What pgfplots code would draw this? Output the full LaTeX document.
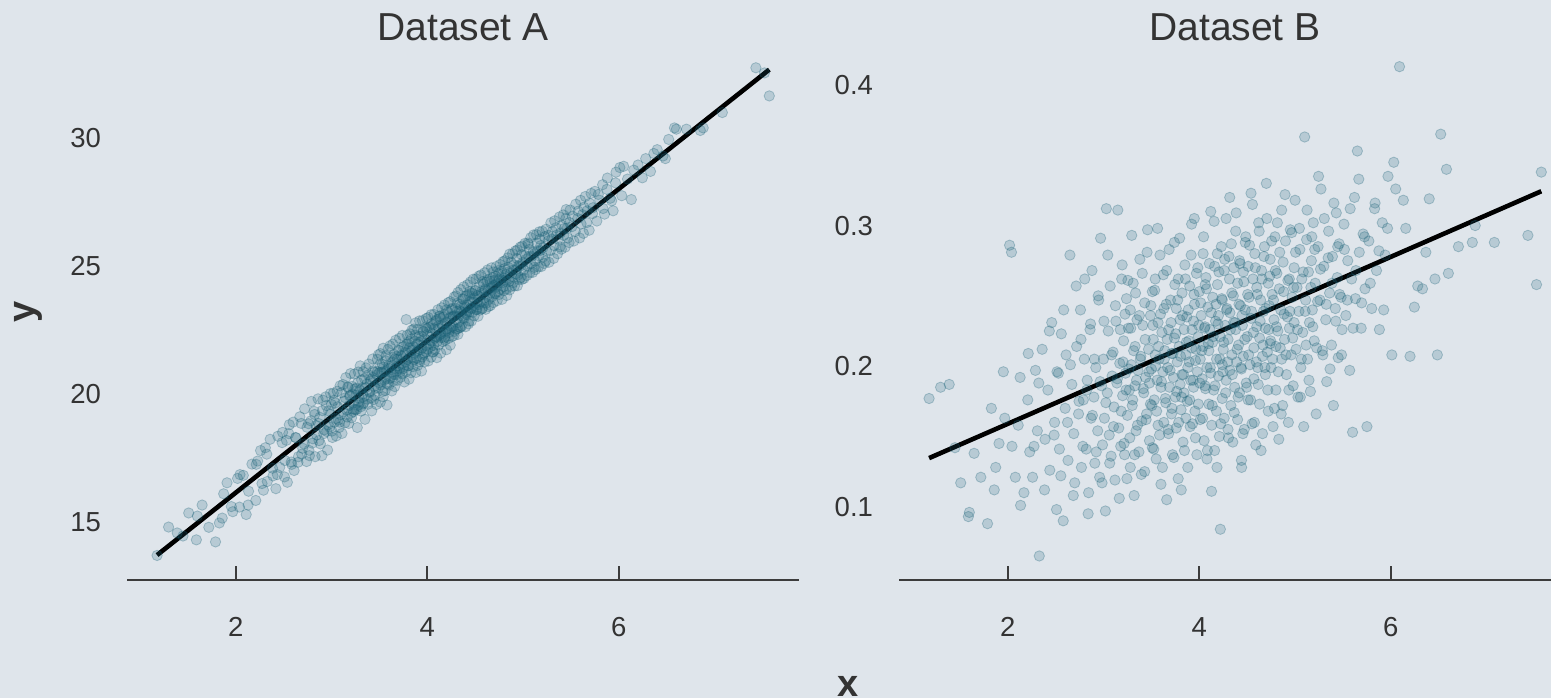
\documentclass[border=0pt]{standalone}
\usepackage{pgfplots}
\usepackage{pgfplotstable}
\pgfplotsset{compat=1.18}
\usepackage{fontspec}
\setmainfont{Liberation Sans}

\definecolor{bg}{HTML}{DFE5EB}
\definecolor{pt}{HTML}{1A6278}
\definecolor{txt}{HTML}{333333}
\definecolor{axl}{HTML}{3C3C3C}

% shared x values, y of dataset A, y of dataset B
\pgfplotstableread{
x ya yb
1.18 13.69 0.177
1.30 14.80 0.185
1.39 14.57 0.187
1.45 14.45 0.142
1.51 15.35 0.117
1.59 14.30 0.093
1.60 15.23 0.096
1.65 15.66 0.138
1.72 14.79 0.121
1.79 14.22 0.088
1.83 14.96 0.170
1.86 15.15 0.112
1.91 16.53 0.145
1.97 15.40 0.163
2.02 16.70 0.286
2.04 15.58 0.281
2.08 16.82 0.121
2.11 15.29 0.158
2.13 15.66 0.192
2.17 17.26 0.110
2.21 15.84 0.176
2.23 17.38 0.139
2.26 17.79 0.121
2.29 16.24 0.197
2.31 17.90 0.154
2.33 16.58 0.065
2.36 18.23 0.212
2.39 16.80 0.148
2.42 16.30 0.183
2.44 18.35 0.126
2.46 17.13 0.231
2.49 18.50 0.160
2.51 16.76 0.098
2.53 18.19 0.195
2.54 16.55 0.141
2.56 18.80 0.223
2.58 17.34 0.090
2.60 18.90 0.170
2.61 17.01 0.208
2.63 18.29 0.133
2.65 17.33 0.279
2.67 19.11 0.187
2.69 17.65 0.152
2.70 17.88 0.117
2.72 19.42 0.214
2.74 17.36 0.166
2.76 18.84 0.240
2.77 17.59 0.128
2.79 19.71 0.176
2.80 18.08 0.205
2.82 19.32 0.141
2.83 17.55 0.190
2.84 18.77 0.095
2.86 19.81 0.226
2.87 18.18 0.163
2.88 19.09 0.268
2.90 17.59 0.178
2.91 19.76 0.131
2.92 18.45 0.199
2.94 19.89 0.154
2.95 18.54 0.247
2.96 17.81 0.121
2.97 19.34 0.291
2.98 18.71 0.186
2.99 20.02 0.144
3.00 19.59 0.205
3.01 18.30 0.163
3.02 20.03 0.097
3.03 18.90 0.312
3.04 19.65 0.181
3.05 18.36 0.225
3.06 20.11 0.151
3.07 18.98 0.257
3.08 18.69 0.136
3.09 20.32 0.193
3.10 19.19 0.210
3.11 18.46 0.171
3.12 20.37 0.119
3.13 19.72 0.232
3.14 18.87 0.188
3.15 20.64 0.311
3.16 19.37 0.156
3.17 20.28 0.202
3.18 18.85 0.143
3.19 19.92 0.262
3.20 20.80 0.179
3.21 19.07 0.218
3.22 20.00 0.137
3.23 19.31 0.195
3.24 20.78 0.248
3.25 19.39 0.165
3.26 20.22 0.227
3.27 18.69 0.183
3.28 20.86 0.128
3.28 19.56 0.240
3.29 19.83 0.201
3.30 21.10 0.172
3.31 19.33 0.259
3.32 20.24 0.108
3.33 19.61 0.214
3.33 20.87 0.186
3.34 19.90 0.154
3.35 19.01 0.233
3.36 21.02 0.197
3.37 20.39 0.139
3.38 19.60 0.276
3.39 21.17 0.207
3.40 20.06 0.161
3.41 20.57 0.229
3.42 19.34 0.181
3.43 21.37 0.125
3.43 20.65 0.245
3.44 19.78 0.192
3.45 20.85 0.166
3.46 20.22 0.297
3.47 19.59 0.212
3.48 21.36 0.147
3.48 20.88 0.188
3.49 20.23 0.236
3.49 21.53 0.173
3.50 20.84 0.198
3.51 19.68 0.253
3.51 21.58 0.142
3.52 20.51 0.219
3.53 21.16 0.176
3.54 19.89 0.262
3.54 21.79 0.208
3.55 20.88 0.134
3.56 20.13 0.190
3.57 21.50 0.231
3.57 20.60 0.158
3.58 19.57 0.205
3.59 21.74 0.279
3.60 21.01 0.185
3.60 20.35 0.116
3.61 21.88 0.224
3.62 20.65 0.196
3.63 21.12 0.160
3.63 20.12 0.241
3.64 21.95 0.211
3.65 20.76 0.174
3.66 21.37 0.105
3.66 20.29 0.268
3.67 22.10 0.199
3.68 20.89 0.152
3.68 21.47 0.226
3.69 20.54 0.185
3.70 21.71 0.247
3.71 20.98 0.166
3.71 22.18 0.209
3.72 20.65 0.137
3.73 21.48 0.192
3.74 20.79 0.288
3.74 22.29 0.220
3.75 21.06 0.178
3.76 21.87 0.241
3.76 20.47 0.156
3.77 21.62 0.203
3.78 22.91 0.262
3.78 20.87 0.120
3.79 22.30 0.214
3.80 21.11 0.187
3.80 21.95 0.233
3.81 20.58 0.169
3.82 22.35 0.252
3.82 21.41 0.194
3.83 20.83 0.146
3.84 22.50 0.226
3.84 21.70 0.181
3.85 21.07 0.272
3.86 22.54 0.208
3.86 21.34 0.163
3.87 22.07 0.235
3.88 20.84 0.199
3.88 22.78 0.128
3.89 21.65 0.218
3.90 21.12 0.176
3.90 22.52 0.257
3.91 22.03 0.190
3.92 21.26 0.301
3.92 22.86 0.213
3.93 21.73 0.159
3.94 20.90 0.232
3.94 22.26 0.185
3.95 22.87 0.244
3.96 21.54 0.204
3.96 22.44 0.149
3.97 21.25 0.266
3.98 22.60 0.196
3.99 21.65 0.221
3.99 22.95 0.173
4.00 22.32 0.253
4.01 21.29 0.205
4.01 22.99 0.162
4.02 21.96 0.236
4.03 22.59 0.191
4.04 21.44 0.280
4.04 23.10 0.214
4.05 22.07 0.147
4.06 22.70 0.228
4.06 21.64 0.186
4.07 23.11 0.263
4.08 22.18 0.199
4.08 21.72 0.134
4.09 22.85 0.242
4.10 22.22 0.211
4.10 21.42 0.173
4.11 23.29 0.226
4.12 22.56 0.310
4.12 21.92 0.195
4.13 23.03 0.158
4.14 22.34 0.249
4.14 21.60 0.217
4.15 23.37 0.183
4.16 22.64 0.271
4.16 22.04 0.140
4.17 23.01 0.232
4.18 22.18 0.205
4.18 23.48 0.168
4.19 22.45 0.258
4.20 21.73 0.193
4.20 23.29 0.236
4.21 22.80 0.150
4.22 22.17 0.084
4.22 23.57 0.221
4.23 22.54 0.285
4.24 23.01 0.201
4.24 21.91 0.177
4.24 23.61 0.247
4.25 22.58 0.212
4.26 23.35 0.163
4.26 22.25 0.268
4.27 23.02 0.229
4.28 23.79 0.190
4.28 22.29 0.305
4.29 23.06 0.241
4.30 22.53 0.155
4.30 23.83 0.219
4.31 23.24 0.278
4.32 22.33 0.197
4.32 23.97 0.238
4.33 23.04 0.172
4.34 23.51 0.252
4.34 22.61 0.208
4.35 24.08 0.146
4.36 23.21 0.231
4.36 22.65 0.270
4.37 23.72 0.185
4.38 22.99 0.226
4.38 24.19 0.296
4.39 23.46 0.203
4.40 22.63 0.162
4.40 23.83 0.259
4.41 23.10 0.215
4.42 24.27 0.275
4.42 23.47 0.181
4.43 22.74 0.243
4.44 23.85 0.198
4.44 23.21 0.133
4.45 24.38 0.229
4.46 23.35 0.267
4.46 22.85 0.207
4.47 23.92 0.155
4.48 23.59 0.240
4.48 24.49 0.288
4.49 23.06 0.188
4.50 24.03 0.221
4.51 23.30 0.271
4.51 24.50 0.176
4.52 23.57 0.249
4.53 23.04 0.201
4.54 24.61 0.323
4.54 23.81 0.234
4.55 23.28 0.159
4.56 24.65 0.262
4.57 23.92 0.213
4.57 23.32 0.191
4.58 24.39 0.280
4.59 23.56 0.144
4.60 24.74 0.228
4.60 24.04 0.256
4.61 23.31 0.199
4.62 24.38 0.302
4.63 23.85 0.220
4.63 24.85 0.173
4.64 23.42 0.247
4.65 24.49 0.268
4.66 23.96 0.207
4.66 23.46 0.152
4.67 24.93 0.239
4.68 24.20 0.285
4.69 23.57 0.194
4.69 24.77 0.227
4.70 24.44 0.330
4.71 23.91 0.210
4.72 24.98 0.259
4.72 24.18 0.168
4.73 23.65 0.243
4.74 24.82 0.216
4.74 24.42 0.276
4.75 23.89 0.199
4.76 25.06 0.251
4.77 24.43 0.157
4.78 23.70 0.233
4.79 25.17 0.292
4.80 24.54 0.214
4.80 24.04 0.183
4.81 25.21 0.266
4.82 24.68 0.225
4.83 23.85 0.148
4.84 25.32 0.281
4.85 24.49 0.240
4.86 24.07 0.205
4.86 25.47 0.311
4.87 24.74 0.172
4.88 24.21 0.253
4.89 25.48 0.219
4.90 24.85 0.289
4.91 24.22 0.194
4.92 25.59 0.235
4.93 24.86 0.160
4.94 24.23 0.262
4.94 25.63 0.227
4.95 25.00 0.297
4.96 24.47 0.208
4.97 25.74 0.249
4.98 25.01 0.186
4.99 24.48 0.270
4.99 25.78 0.231
5.00 25.15 0.318
5.01 24.52 0.212
5.02 25.89 0.256
5.03 25.26 0.178
5.04 24.63 0.239
5.05 25.90 0.283
5.06 25.37 0.199
5.07 24.74 0.262
5.08 26.11 0.224
5.09 25.38 0.157
5.10 24.75 0.363
5.11 26.22 0.247
5.12 25.49 0.290
5.13 24.86 0.205
5.14 26.23 0.267
5.15 25.60 0.231
5.16 24.97 0.182
5.17 26.34 0.275
5.18 25.61 0.240
5.19 24.98 0.302
5.20 26.36 0.218
5.21 25.73 0.259
5.22 25.10 0.166
5.24 26.44 0.285
5.26 25.98 0.247
5.27 25.15 0.326
5.29 26.69 0.208
5.30 26.06 0.271
5.32 25.30 0.233
5.33 26.77 0.189
5.35 26.21 0.296
5.36 25.48 0.252
5.38 26.92 0.215
5.39 26.29 0.278
5.40 25.66 0.172
5.42 27.00 0.241
5.43 26.47 0.309
5.44 25.74 0.263
5.45 27.21 0.206
5.46 26.48 0.287
5.48 25.92 0.249
5.49 27.19 0.226
5.51 26.54 0.301
5.53 25.98 0.236
5.55 27.42 0.275
5.57 26.86 0.197
5.59 26.10 0.262
5.60 27.57 0.153
5.62 27.01 0.320
5.63 26.28 0.248
5.65 27.72 0.353
5.67 27.16 0.281
5.69 26.40 0.227
5.71 27.84 0.294
5.73 27.28 0.255
5.75 27.92 0.157
5.77 26.76 0.289
5.80 27.57 0.241
5.83 28.18 0.312
5.85 27.03 0.268
5.88 28.44 0.226
5.91 27.65 0.302
5.94 27.16 0.279
5.97 28.67 0.335
6.01 28.85 0.208
6.03 27.75 0.345
6.05 28.90 0.326
6.09 28.40 0.413
6.13 27.60 0.318
6.20 28.95 0.207
6.28 29.20 0.257
6.33 28.70 0.255
6.40 29.55 0.319
6.46 29.30 0.262
6.52 29.95 0.365
6.58 30.40 0.340
6.60 30.35 0.266
6.85 30.30 0.288
6.88 30.40 0.300
7.08 31.00 0.288
7.43 32.75 0.293
7.52 32.55 0.258
7.57 31.65 0.338
1.875 16.10 0.128
1.955 15.60 0.196
2.045 16.85 0.143
2.135 16.20 0.101
2.215 17.25 0.209
2.275 16.50 0.143
2.325 17.65 0.188
2.385 17.10 0.112
2.435 16.85 0.225
2.485 18.10 0.151
2.515 17.40 0.196
2.555 18.45 0.122
2.585 17.25 0.240
2.625 18.30 0.160
2.655 17.55 0.201
2.685 18.85 0.108
2.715 18.05 0.257
2.745 18.70 0.175
2.765 17.80 0.219
2.785 18.95 0.143
2.805 18.25 0.262
2.825 19.20 0.183
2.845 18.40 0.110
2.865 18.85 0.230
2.885 18.05 0.165
2.905 19.35 0.205
2.925 18.60 0.139
2.945 19.55 0.250
2.965 18.80 0.189
2.985 19.20 0.117
3.005 18.55 0.232
3.025 19.75 0.174
3.045 19.05 0.279
3.065 19.50 0.131
3.085 18.90 0.208
3.105 20.05 0.157
3.125 19.30 0.243
3.145 19.85 0.191
3.165 19.10 0.106
3.175 20.25 0.226
3.185 19.55 0.168
3.195 19.95 0.272
3.205 19.25 0.203
3.215 20.30 0.145
3.225 19.65 0.237
3.235 19.40 0.183
3.245 20.20 0.120
3.255 19.95 0.261
3.265 19.40 0.198
3.275 20.45 0.149
3.285 19.70 0.227
3.295 20.15 0.293
3.305 19.50 0.176
3.315 20.55 0.211
3.325 20.00 0.137
3.335 19.65 0.252
3.345 20.60 0.190
3.355 20.25 0.158
3.375 19.80 0.236
3.385 20.75 0.205
3.395 20.10 0.123
3.405 20.50 0.266
3.415 19.85 0.184
3.435 20.90 0.219
3.445 20.30 0.162
3.455 19.95 0.281
3.475 20.75 0.196
3.495 20.45 0.243
3.505 21.15 0.172
3.515 20.35 0.229
3.525 20.85 0.141
3.535 20.10 0.254
3.545 21.05 0.200
3.555 20.55 0.168
3.565 21.30 0.298
3.575 20.90 0.214
3.585 20.40 0.151
3.595 21.10 0.237
3.605 20.60 0.189
3.615 21.45 0.128
3.625 20.85 0.265
3.635 21.25 0.205
3.645 20.50 0.177
3.655 21.55 0.244
3.665 21.00 0.219
3.675 20.75 0.155
3.685 21.35 0.283
3.695 21.10 0.197
3.705 21.70 0.231
3.715 20.85 0.170
3.725 21.50 0.209
3.735 21.20 0.135
3.745 21.85 0.258
3.755 21.00 0.223
3.765 21.55 0.182
3.775 21.25 0.247
3.785 21.95 0.160
3.795 21.35 0.291
3.805 21.10 0.207
3.815 21.80 0.178
3.825 21.50 0.236
3.835 22.15 0.194
3.845 21.25 0.140
3.855 21.85 0.262
3.865 21.60 0.217
3.875 22.30 0.175
3.885 21.40 0.240
3.895 21.95 0.203
3.905 21.70 0.157
3.915 22.25 0.279
3.925 21.35 0.226
3.935 22.05 0.190
3.945 21.80 0.251
3.955 22.45 0.168
3.965 21.60 0.212
3.975 22.15 0.137
3.985 21.90 0.270
3.995 22.55 0.229
3.812 22.05 0.112
3.948 21.45 0.305
4.005 21.75 0.188
4.015 22.60 0.245
4.025 22.10 0.211
4.035 21.85 0.163
4.045 22.75 0.292
4.055 22.35 0.227
4.065 21.90 0.184
4.075 22.55 0.255
4.085 22.25 0.140
4.095 22.90 0.216
4.105 22.05 0.273
4.115 22.65 0.199
4.125 22.30 0.238
4.135 22.95 0.172
4.145 22.20 0.221
4.155 22.70 0.303
4.165 22.45 0.186
4.175 23.10 0.244
4.185 22.25 0.128
4.195 22.80 0.230
4.205 22.55 0.267
4.215 23.20 0.205
4.225 22.40 0.159
4.235 22.95 0.248
4.245 22.65 0.196
4.128 23.05 0.111
4.062 21.65 0.258
4.188 22.10 0.280
4.255 23.30 0.217
4.265 22.65 0.276
4.275 23.05 0.181
4.285 22.45 0.240
4.295 23.35 0.203
4.305 22.90 0.149
4.315 23.55 0.262
4.325 22.80 0.226
4.335 23.25 0.287
4.345 22.60 0.194
4.355 23.45 0.250
4.365 23.05 0.167
4.375 23.70 0.231
4.385 22.95 0.309
4.395 23.40 0.212
4.405 23.15 0.178
4.415 23.85 0.244
4.425 23.25 0.273
4.435 22.85 0.199
4.445 23.60 0.236
4.455 23.35 0.152
4.465 23.95 0.260
4.475 23.20 0.219
4.485 23.75 0.292
4.495 23.45 0.185
4.318 22.55 0.320
4.442 24.00 0.128
4.505 24.05 0.251
4.515 23.30 0.208
4.525 23.85 0.286
4.535 23.50 0.176
4.545 24.20 0.239
4.555 23.60 0.315
4.565 24.00 0.224
4.575 23.35 0.160
4.585 24.30 0.270
4.595 23.75 0.203
4.605 24.10 0.251
4.615 23.55 0.187
4.625 24.45 0.296
4.635 24.05 0.232
4.645 23.70 0.140
4.655 24.40 0.262
4.665 24.15 0.215
4.675 23.80 0.278
4.685 24.55 0.199
4.695 24.25 0.241
4.705 23.95 0.305
4.715 24.60 0.183
4.725 24.30 0.226
4.735 24.00 0.264
4.745 24.70 0.218
4.755 24.50 0.289
4.765 24.10 0.205
4.775 24.80 0.247
4.785 24.35 0.170
4.795 24.20 0.268
4.805 24.90 0.228
4.815 24.45 0.302
4.825 24.10 0.196
4.835 24.75 0.255
4.845 24.95 0.213
4.855 24.40 0.166
4.875 25.15 0.274
4.885 24.60 0.237
4.895 24.35 0.322
4.905 25.05 0.208
4.925 24.70 0.261
4.935 25.30 0.183
4.945 24.65 0.239
4.965 25.05 0.295
4.975 24.55 0.220
4.985 25.45 0.256
5.005 24.85 0.281
5.025 25.40 0.226
5.045 25.00 0.298
5.065 25.65 0.205
5.085 25.10 0.267
5.105 25.55 0.239
5.125 25.20 0.311
5.145 25.90 0.190
5.165 25.40 0.256
5.185 25.80 0.228
5.205 25.35 0.283
5.225 26.15 0.213
5.245 25.60 0.335
5.055 25.85 0.178
5.115 24.95 0.215
5.175 26.05 0.292
5.235 25.20 0.246
5.265 26.20 0.269
5.285 25.60 0.211
5.305 26.35 0.305
5.325 25.80 0.244
5.345 26.50 0.277
5.365 26.05 0.198
5.385 25.75 0.259
5.405 26.60 0.316
5.425 26.20 0.232
5.445 26.85 0.285
5.465 26.10 0.251
5.485 26.70 0.208
5.515 26.95 0.283
5.545 26.35 0.247
5.575 27.15 0.312
5.605 26.65 0.227
5.635 27.30 0.268
5.665 26.70 0.333
5.695 27.45 0.245
5.725 27.05 0.292
5.785 27.80 0.259
5.835 27.25 0.316
5.875 28.00 0.282
5.925 27.55 0.240
5.965 28.25 0.298
6.155 28.75 0.298
6.245 28.45 0.242
6.365 29.40 0.281
6.485 29.20 0.208
6.705 30.35 0.285
}\pts

\pgfplotsset{
  panel/.style={
    scale only axis,
    width=336pt, height=267.5pt,
    xmin=0.866, xmax=7.88,
    axis x line=bottom,
    axis y line=left,
    y axis line style={draw=none},
    x axis line style={draw=axl, line width=1pt, -},
    xtick={2,4,6},
    xtick style={draw=axl, line width=1pt},
    tick align=inside,
    major tick length=6.8pt,
    ytick style={draw=none},
    ticklabel style={font=\fontsize{13.75}{16}\selectfont, text=txt},
    xticklabel style={yshift=-15pt},
    yticklabel style={xshift=-9.5pt},
    /pgf/number format/assume math mode=true,
    scaled ticks=false,
    clip=false,
    title style={font=\fontsize{19.5}{22}\selectfont, text=txt,
      at={(0.5,1)}, anchor=base, yshift=-3.5pt},
  },
  dots/.style={only marks, mark=*, mark size=2.6pt,
    mark options={fill=pt, fill opacity=0.2, draw=pt, draw opacity=0.3, line width=0.4pt}},
  fit/.style={black, line width=2.3pt, no marks},
}

\begin{document}
\begin{tikzpicture}[x=1pt, y=1pt]
\fill[bg] (0,0) rectangle (775.5,-349);

\begin{axis}[panel, at={(63.5pt,-290pt)}, anchor=south west,
  ymin=12.73, ymax=33.64, ytick={15,20,25,30},
  title={Dataset A}]
\addplot[dots] table[x=x, y=ya] {\pts};
\addplot[fit] coordinates {(1.18,13.705) (7.57,32.68)};
\end{axis}

\begin{axis}[panel, at={(449.5pt,-290pt)}, anchor=south west,
  ymin=0.0479, ymax=0.4284, ytick={0.1,0.2,0.3,0.4},
  yticklabels={0.1,0.2,0.3,0.4},
  title={Dataset B}]
\addplot[dots] table[x=x, y=yb] {\pts};
\addplot[fit] coordinates {(1.18,0.1346) (7.57,0.3244)};
\end{axis}

\node[rotate=90, anchor=base, text=txt, font=\fontsize{19}{22}\selectfont\bfseries] at (17.3,-156) {y};
\node[anchor=base, text=txt, font=\fontsize{19}{22}\selectfont\bfseries] at (424,-348) {x};

\pgfresetboundingbox
\useasboundingbox (0,0) rectangle (775.5,-349);
\end{tikzpicture}
\end{document}
